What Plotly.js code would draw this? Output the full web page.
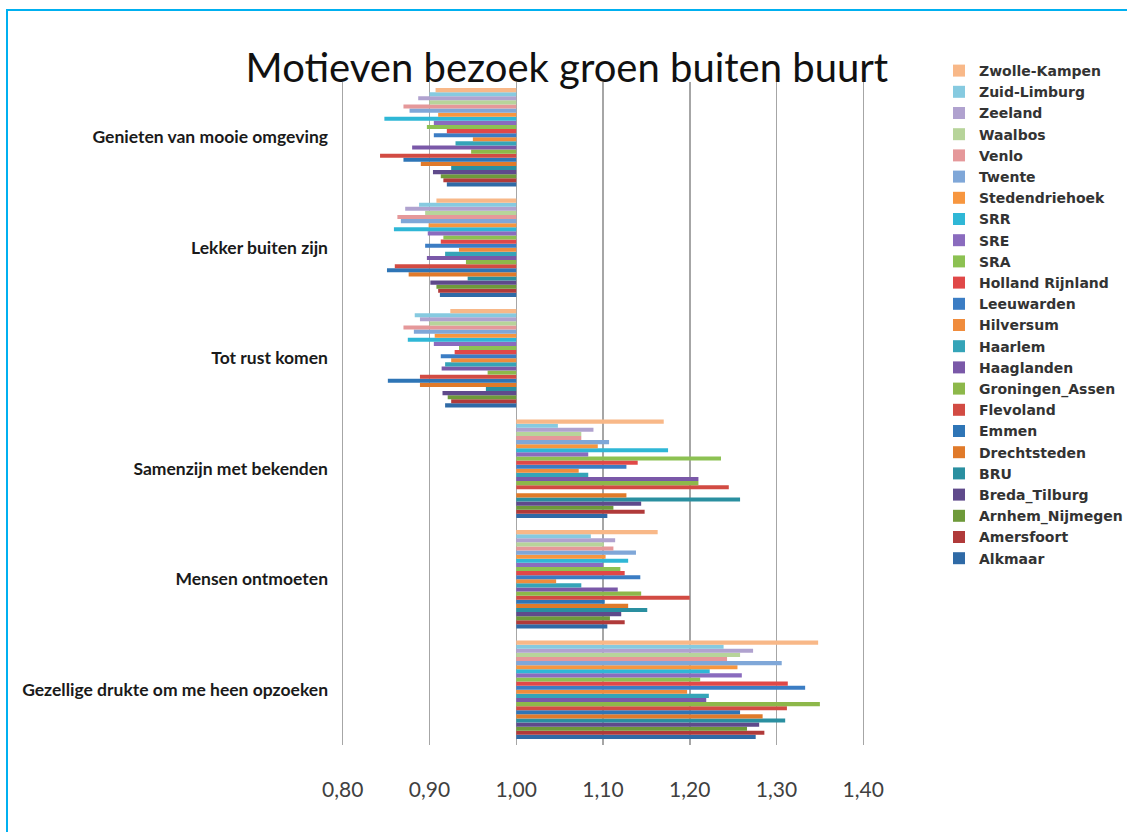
<!DOCTYPE html>
<html>
<head>
<meta charset="utf-8">
<script src="https://cdn.plot.ly/plotly-3.0.1.min.js"></script>
<style>
  html, body { margin: 0; padding: 0; background: #fff; }
  #chart { position: absolute; left: 0; top: 0; width: 1127px; height: 832px; }
  #frame { position: absolute; left: 6px; top: 9px; width: 1200px; height: 900px;
           border-left: 2px solid #00B0F0; border-top: 2px solid #00B0F0; pointer-events: none; }
</style>
</head>
<body>
<div id="chart"></div>
<div id="frame"></div>
<script>
// Categories, bottom to top as drawn
const categories = [
  "Gezellige drukte om me heen opzoeken",
  "Mensen ontmoeten",
  "Samenzijn met bekenden",
  "Tot rust komen",
  "Lekker buiten zijn",
  "Genieten van mooie omgeving"
];

// Series (regions), in series order
const regions = [
  "Alkmaar", "Amersfoort", "Arnhem_Nijmegen", "Breda_Tilburg", "BRU", "Drechtsteden",
  "Emmen", "Flevoland", "Groningen_Assen", "Haaglanden", "Haarlem", "Hilversum",
  "Leeuwarden", "Holland Rijnland", "SRA", "SRE", "SRR", "Stedendriehoek",
  "Twente", "Venlo", "Waalbos", "Zeeland", "Zuid-Limburg", "Zwolle-Kampen"
];

const colors = [
  "#2F6AA6", "#B03A3A", "#6E9A3A", "#5F4A8B", "#2A8FA0", "#E07A2A",
  "#2E75B6", "#D24B43", "#8DB84A", "#7A58A8", "#35A4B8", "#F08C3C",
  "#3B7DC4", "#E04848", "#8CC152", "#8A6BBE", "#2FB7D6", "#F7963F",
  "#7FA7D8", "#E5989A", "#B7D49A", "#B0A2CF", "#86CAE0", "#F8B888"
];

// Values per category (index per region, same order as `regions`)
const gezellige = [1.276,1.286,1.266,1.280,1.310,1.284,1.258,1.312,1.350,1.219,1.222,1.197,1.333,1.313,1.212,1.260,1.223,1.255,1.306,1.243,1.258,1.273,1.239,1.348];
const mensen    = [1.105,1.125,1.108,1.121,1.151,1.129,1.102,1.200,1.144,1.117,1.075,1.046,1.143,1.125,1.120,1.100,1.129,1.103,1.138,1.112,1.101,1.114,1.086,1.163];
const samenzijn = [1.105,1.148,1.112,1.144,1.258,1.127,1.000,1.245,1.210,1.210,1.083,1.072,1.127,1.140,1.236,1.083,1.175,1.094,1.107,1.075,1.075,1.089,1.048,1.170];
const totRust   = [0.918,0.925,0.921,0.915,0.965,0.889,0.852,0.889,0.967,0.914,0.918,0.925,0.913,0.929,0.934,0.905,0.875,0.906,0.882,0.870,0.900,0.889,0.883,0.924];
const lekker    = [0.912,0.910,0.908,0.901,0.944,0.876,0.851,0.860,0.942,0.897,0.918,0.934,0.895,0.913,0.916,0.898,0.859,0.899,0.867,0.863,0.895,0.872,0.888,0.908];
const genieten  = [0.920,0.916,0.913,0.904,0.925,0.890,0.870,0.843,0.948,0.880,0.930,0.950,0.905,0.920,0.897,0.905,0.848,0.910,0.877,0.870,0.900,0.887,0.900,0.907];

const byCategory = [gezellige, mensen, samenzijn, totRust, lekker, genieten];
const baseline = 1.0;

const traces = regions.map((name, i) => ({
  type: "bar",
  orientation: "h",
  name: name,
  y: categories,
  x: byCategory.map(arr => arr[i] - baseline),
  base: baseline,
  marker: { color: colors[i], line: { width: 0 } },
  hovertemplate: name + ": %{customdata}<extra></extra>",
  customdata: byCategory.map(arr => arr[i])
}));

const layout = {
  width: 1127,
  height: 832,
  paper_bgcolor: "#ffffff",
  plot_bgcolor: "#ffffff",
  separators: ",.",
  margin: { l: 341, r: 262, t: 82, b: 87 },
  barmode: "group",
  bargap: 0.11,
  bargroupgap: 0,
  title: {
    text: "Motieven bezoek groen buiten buurt",
    font: { family: "Lato, 'Open Sans', sans-serif", size: 40, color: "#111111" },
    x: 0.503, xref: "container", xanchor: "center",
    y: 1 - 68 / 832, yref: "container", yanchor: "middle"
  },
  xaxis: {
    range: [0.798, 1.402],
    dtick: 0.1,
    tick0: 0.8,
    tickformat: ".2f",
    showgrid: true,
    gridcolor: "#A6A6A6",
    gridwidth: 1.5,
    zeroline: false,
    showline: false,
    ticks: "",
    ticklabelstandoff: 30,
    tickfont: { family: "Lato, 'Open Sans', sans-serif", size: 21, color: "#404040" },
    fixedrange: true
  },
  yaxis: {
    type: "category",
    categoryorder: "array",
    categoryarray: categories,
    showgrid: false,
    zeroline: false,
    showline: false,
    ticks: "",
    ticklabelstandoff: 12,
    tickfont: { family: "Lato, 'Open Sans', sans-serif", size: 17.5, color: "#1a1a1a", weight: "bold" },
    fixedrange: true
  },
  showlegend: true,
  legend: {
    traceorder: "reversed",
    xref: "container", x: 939 / 1127, xanchor: "left",
    yref: "container", y: 1 - 55 / 832, yanchor: "top",
    itemwidth: 30,
    maxheight: 620,
    font: { family: "'DejaVu Sans', sans-serif", size: 14, color: "#333333", weight: "bold" },
    bgcolor: "rgba(0,0,0,0)"
  }
};

Plotly.newPlot("chart", traces, layout, { displayModeBar: false, staticPlot: true });
</script>
</body>
</html>
